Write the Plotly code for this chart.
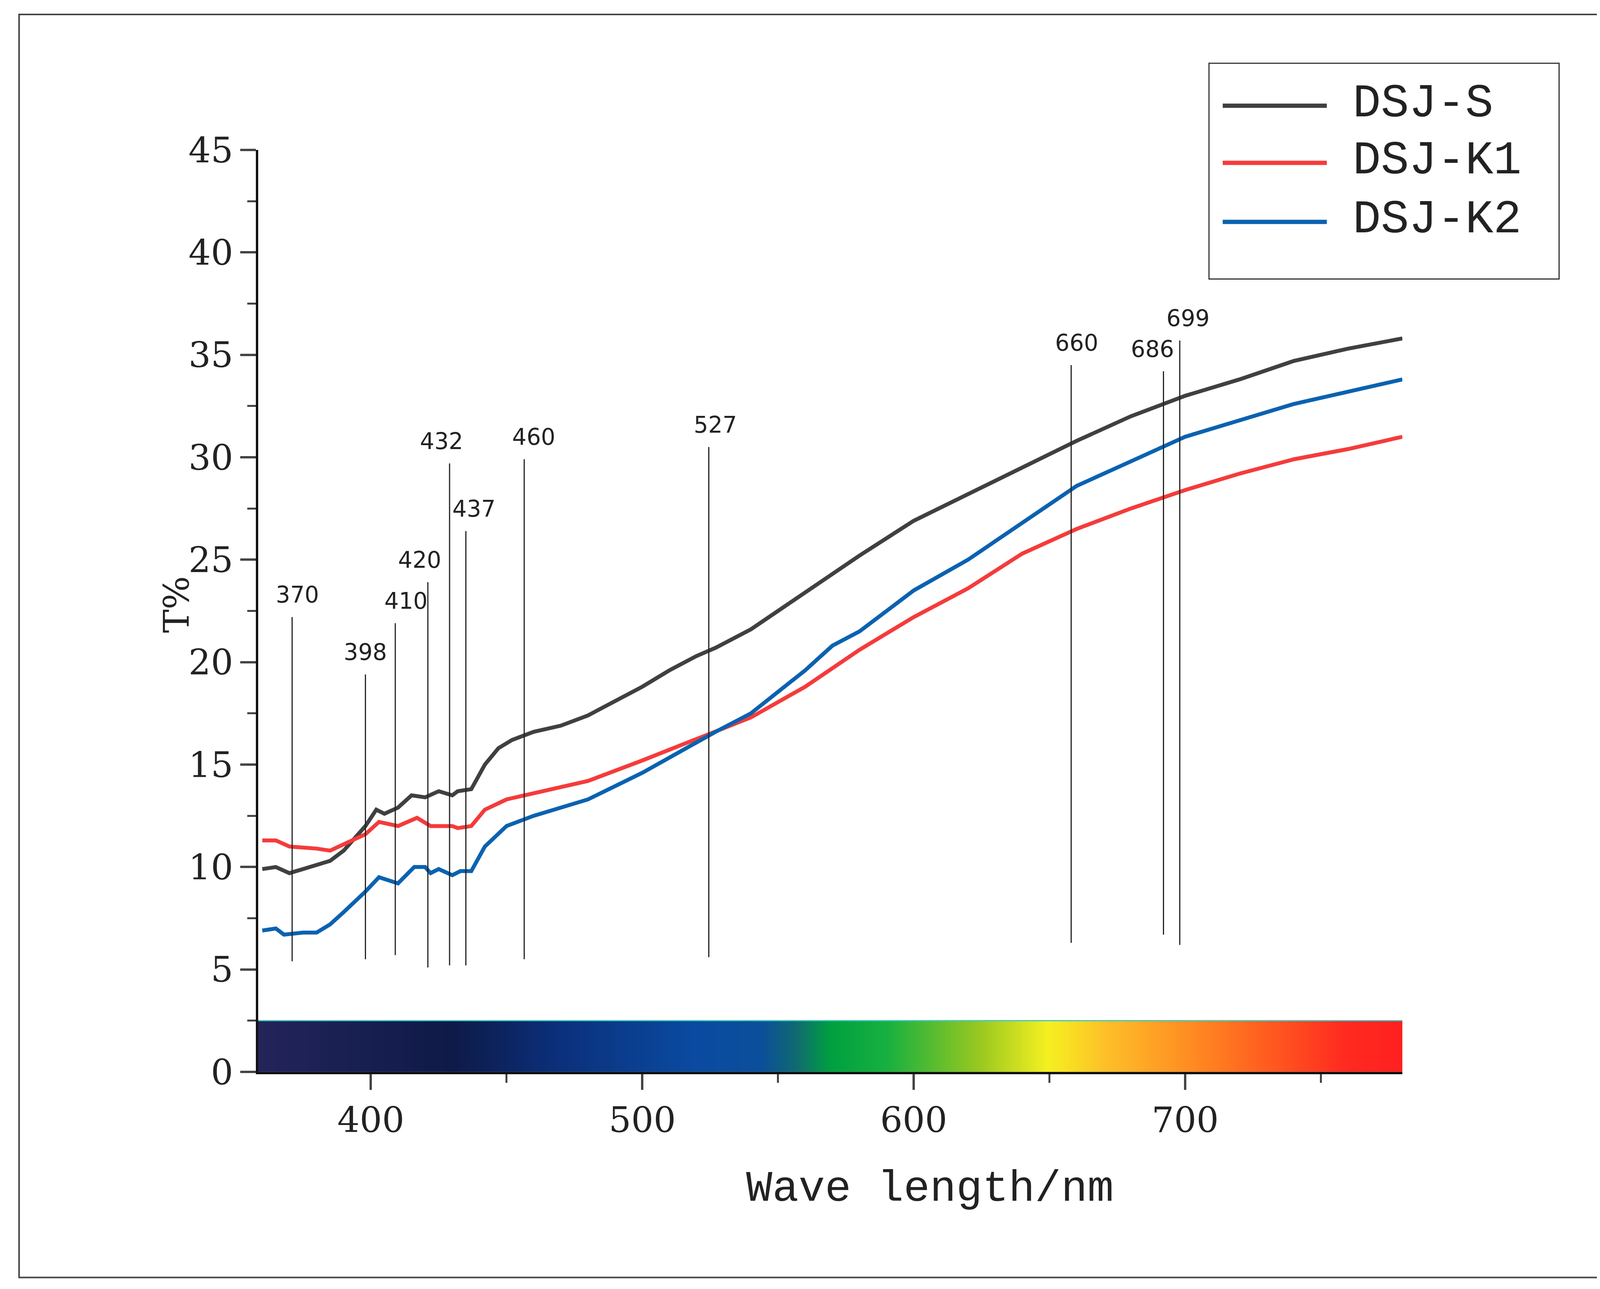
import plotly.graph_objects as go
import numpy as np

wl_s = [360,365,370,375,385,390,398,402,405,410,415,420,425,430,432,437,442,447,452,460,470,480,490,500,510,520,527,540,550,560,580,600,620,640,660,680,700,720,740,760,780]
t_s  = [9.9,10.0,9.7,9.9,10.3,10.8,12.0,12.8,12.6,12.9,13.5,13.4,13.7,13.5,13.7,13.8,15.0,15.8,16.2,16.6,16.9,17.4,18.1,18.8,19.6,20.3,20.7,21.6,22.5,23.4,25.2,26.9,28.2,29.5,30.8,32.0,33.0,33.8,34.7,35.3,35.8]
wl_k1 = [360,365,370,380,385,390,398,403,410,417,422,430,432,437,442,450,460,480,500,527,540,560,580,600,620,640,660,680,700,720,740,760,780]
t_k1  = [11.3,11.3,11.0,10.9,10.8,11.1,11.6,12.2,12.0,12.4,12.0,12.0,11.9,12.0,12.8,13.3,13.6,14.2,15.2,16.6,17.3,18.8,20.6,22.2,23.6,25.3,26.5,27.5,28.4,29.2,29.9,30.4,31.0]
wl_k2 = [360,365,368,375,380,385,390,398,403,410,416,420,422,425,430,433,437,442,450,460,480,500,527,540,560,570,580,600,620,640,660,680,700,720,740,760,780]
t_k2  = [6.9,7.0,6.7,6.8,6.8,7.2,7.8,8.8,9.5,9.2,10.0,10.0,9.7,9.9,9.6,9.8,9.8,11.0,12.0,12.5,13.3,14.6,16.6,17.5,19.6,20.8,21.5,23.5,25.0,26.8,28.6,29.8,31.0,31.8,32.6,33.2,33.8]

mark_labels = ["370","398","410","420","432","437","460","527","660","686","699"]
mark_x      = [371,398,409,421,429,435,456.5,524.5,658,692,698]
mark_bot    = [5.4,5.5,5.7,5.1,5.2,5.2,5.5,5.6,6.3,6.7,6.2]
mark_top    = [22.2,19.4,21.9,23.9,29.7,26.4,29.9,30.5,34.5,34.2,35.7]
label_x     = [373,398,413,418,426,438,460,527,660,688,701]

names = ["DSJ-S","DSJ-K1","DSJ-K2"]
colors = ["#404040","#f53b3b","#0a62b0"]

fig = go.Figure()
sx = np.linspace(358.5, 780, 600)
cs = [[0,"#23245a"],[0.17,"#0e1a48"],[0.26,"#0b2f7a"],[0.38,"#0a4aa0"],[0.44,"#0b4f9a"],[0.47,"#106a70"],[0.5,"#00a040"],[0.55,"#18b040"],[0.63,"#98c820"],[0.69,"#f5f020"],[0.74,"#fdc028"],[0.84,"#ff7a20"],[0.95,"#ff2a20"],[1,"#ff2020"]]
fig.add_trace(go.Heatmap(x=sx, y=[0.625,1.875], z=[sx,sx], colorscale=cs, showscale=False, zsmooth="best", hoverinfo="skip"))
fig.add_shape(type="line", x0=358.5, x1=780, y0=2.5, y1=2.5, line=dict(color="#3fc8c0", width=3))

for wl, t, n, c in zip([wl_s,wl_k1,wl_k2],[t_s,t_k1,t_k2],names,colors):
    fig.add_trace(go.Scatter(x=wl, y=t, name=n, mode="lines", line=dict(color=c, width=10), showlegend=False))

for lab, x, b, tp, lx in zip(mark_labels, mark_x, mark_bot, mark_top, label_x):
    fig.add_shape(type="line", x0=x, x1=x, y0=b, y1=tp, line=dict(color="#222", width=3))
    fig.add_annotation(x=lx, y=tp+0.4, text=lab, showarrow=False, yanchor="bottom",
                       font=dict(family="DejaVu Sans", size=58, color="#222"))

fig.add_shape(type="rect", xref="paper", yref="paper", x0=0.831, x1=1.137, y0=0.860, y1=1.094, line=dict(color="#333", width=3))
for n, c, yy in zip(names, colors, [1.048, 0.986, 0.922]):
    fig.add_shape(type="line", xref="paper", yref="paper", x0=0.843, x1=0.934, y0=yy, y1=yy, line=dict(color=c, width=11))
    fig.add_annotation(xref="paper", yref="paper", x=0.956, y=yy, yshift=75, text=n, showarrow=False, xanchor="left",
                       font=dict(family="Liberation Mono", size=120, color="#222"))
fig.add_shape(type="rect", xref="paper", yref="paper", x0=-0.209, x1=1.277, y0=-0.223, y1=1.147, line=dict(color="#444", width=4))

fig.add_annotation(xref="paper", yref="paper", x=0.587, y=-0.155, text="Wave length/nm", showarrow=False,
                   font=dict(family="Liberation Mono", size=112, color="#222"))
fig.add_annotation(xref="paper", yref="paper", x=-0.09, y=0.507, text="T%", showarrow=False, textangle=-90,
                   font=dict(family="DejaVu Serif", size=90, color="#222"))

tickfont = dict(family="DejaVu Serif", size=90, color="#222")
fig.update_xaxes(range=[358.5,780], tickvals=[400,500,600,700], ticks="outside", ticklen=40, tickwidth=6,
                 showline=True, linecolor="#111", linewidth=6, showgrid=False, zeroline=False, tickfont=tickfont,
                 minor=dict(tickvals=[450,550,650,750], ticks="outside", ticklen=22, tickwidth=5))
fig.update_yaxes(range=[0,45], dtick=5, ticks="outside", ticklen=40, tickwidth=6,
                 showline=True, linecolor="#111", linewidth=6, showgrid=False, zeroline=False, tickfont=tickfont,
                 minor=dict(dtick=2.5, ticks="outside", ticklen=22, tickwidth=5))
fig.update_layout(width=4430, height=3301, paper_bgcolor="white", plot_bgcolor="white",
                  margin=dict(l=653, r=848, t=376, b=564), showlegend=False)
fig.write_html("out.html")
